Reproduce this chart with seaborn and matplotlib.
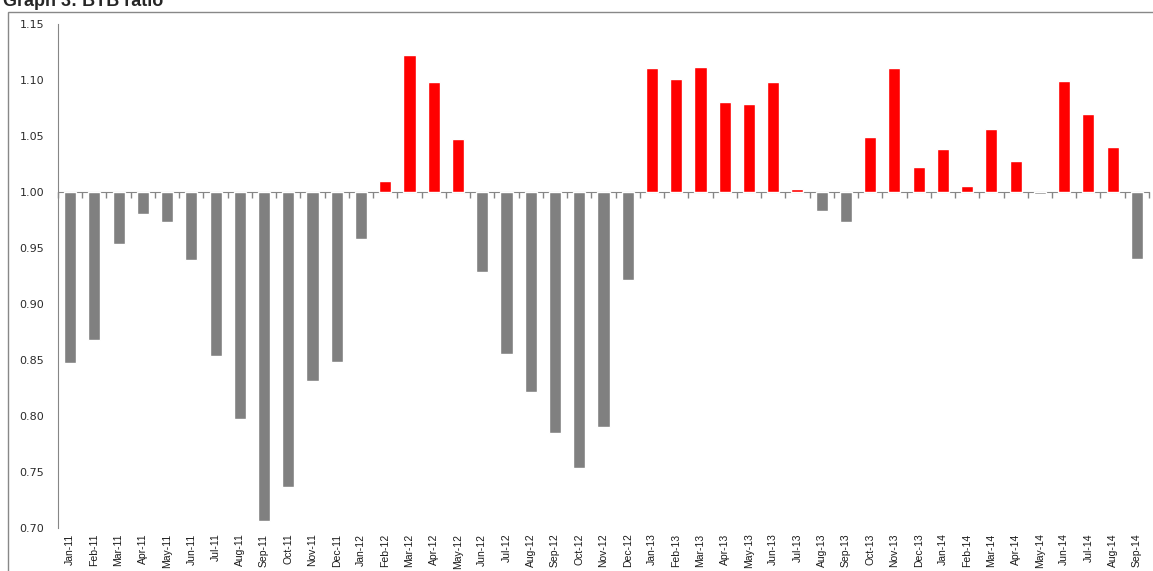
import matplotlib
matplotlib.use("Agg")
import matplotlib.pyplot as plt
from matplotlib.patches import Rectangle
from matplotlib.ticker import FuncFormatter, MultipleLocator
import seaborn as sns
import numpy as np
import pandas as pd

# data
months = ['Jan-11', 'Feb-11', 'Mar-11', 'Apr-11', 'May-11', 'Jun-11', 'Jul-11', 'Aug-11',
          'Sep-11', 'Oct-11', 'Nov-11', 'Dec-11', 'Jan-12', 'Feb-12', 'Mar-12', 'Apr-12',
          'May-12', 'Jun-12', 'Jul-12', 'Aug-12', 'Sep-12', 'Oct-12', 'Nov-12', 'Dec-12',
          'Jan-13', 'Feb-13', 'Mar-13', 'Apr-13', 'May-13', 'Jun-13', 'Jul-13', 'Aug-13',
          'Sep-13', 'Oct-13', 'Nov-13', 'Dec-13', 'Jan-14', 'Feb-14', 'Mar-14', 'Apr-14',
          'May-14', 'Jun-14', 'Jul-14', 'Aug-14', 'Sep-14']
btb_ratio = [0.847, 0.868, 0.954, 0.980, 0.973, 0.939, 0.854, 0.797,
             0.706, 0.737, 0.831, 0.848, 0.958, 1.010, 1.122, 1.098,
             1.047, 0.929, 0.855, 0.821, 0.785, 0.754, 0.790, 0.921,
             1.111, 1.101, 1.112, 1.080, 1.079, 1.098, 1.003, 0.983,
             0.973, 1.049, 1.111, 1.022, 1.038, 1.005, 1.056, 1.028,
             0.998, 1.099, 1.070, 1.040, 0.940]
baseline = 1.0

df = pd.DataFrame({'month': months, 'ratio': btb_ratio})
df['dev'] = df['ratio'] - baseline
df['side'] = np.where(df['dev'] >= 0, 'above', 'below')

sns.set_style("white")
plt.rcParams['font.family'] = ['Liberation Sans', 'DejaVu Sans']

fig = plt.figure(figsize=(11.53, 5.71), dpi=100)
ax = fig.add_axes([0.0503, 0.0753, 0.9462, 0.8827])

sns.barplot(data=df, x='month', y='dev', hue='side', order=months,
            palette={'above': '#FF0000', 'below': '#808080'},
            dodge=False, width=0.5, legend=False, ax=ax, saturation=1)

ax.set_ylim(0.70 - baseline, 1.15 - baseline)
ax.set_xlim(-0.5, len(months) - 0.5)
ax.yaxis.set_major_locator(MultipleLocator(0.05))
ax.yaxis.set_major_formatter(FuncFormatter(lambda v, p: f"{v + baseline:.2f}"))
ax.set_xlabel('')
ax.set_ylabel('')

for s in ['top', 'right', 'bottom']:
    ax.spines[s].set_visible(False)
ax.spines['left'].set_color('#868686')
ax.tick_params(axis='y', direction='out', length=4, color='#868686', width=1,
               labelsize=8, labelcolor='#2b2b2b', pad=6)
for lab in ax.get_yticklabels():
    lab.set_fontfamily('DejaVu Sans')
ax.tick_params(axis='x', length=0, labelsize=7.5, labelcolor='#1a1a1a', pad=4)
plt.setp(ax.get_xticklabels(), rotation=90)

# category axis crossing at 1.00 with boundary ticks
sec = ax.secondary_xaxis(0, transform=ax.transData)
sec.set_xticks(np.arange(len(months) + 1) - 0.5)
sec.set_xticklabels([])
sec.tick_params(length=4, color='#868686', width=1, direction='out')
sec.spines['bottom'].set_color('#868686')

# outer chart frame and title (clipped at the top as in the source)
fig.patches.append(Rectangle((8 / 1153, -0.01), 1.0, 1 - 12 / 571 + 0.01,
                             transform=fig.transFigure, fill=False,
                             edgecolor='#888888', linewidth=1))
fig.text(0.003, 0.997, 'Graph 3: BTB ratio', fontsize=13, fontweight='bold',
         ha='left', va='center', family=['Liberation Sans', 'DejaVu Sans'])

fig.savefig('out.png', dpi=100)
